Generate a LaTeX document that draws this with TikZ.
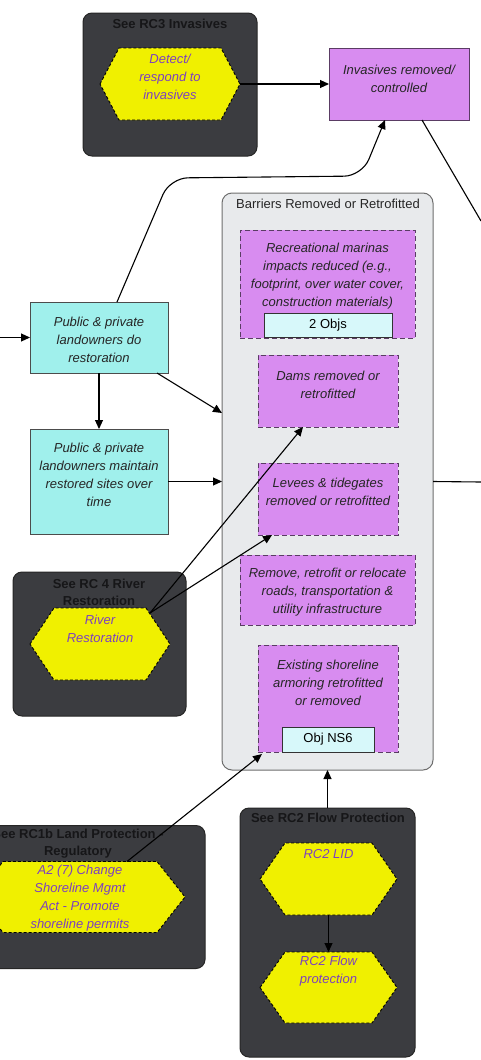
\documentclass[tikz,border=0pt]{standalone}
\usepackage{fontspec}
\setmainfont{Liberation Sans}
\usetikzlibrary{arrows.meta}
\definecolor{darkbox}{RGB}{59,60,64}
\definecolor{titlecol}{RGB}{22,22,24}
\definecolor{hexyellow}{RGB}{240,240,0}
\definecolor{hexpurple}{RGB}{125,65,190}
\definecolor{violetfill}{RGB}{216,140,240}
\definecolor{violetline}{RGB}{90,60,100}
\definecolor{cyanfill}{RGB}{160,240,236}
\definecolor{cyanlight}{RGB}{215,248,250}
\definecolor{contfill}{RGB}{232,234,236}
\definecolor{contline}{RGB}{110,110,110}
\newcommand\myhex[6]{%
  \node[hexnode, minimum width=#4pt, minimum height=#5pt] (#1) at (#2,#3) {};
  \draw[hexline] (#1.west) -- ([xshift=#6pt]#1.north west) -- ([xshift=-#6pt]#1.north east) -- (#1.east) -- ([xshift=-#6pt]#1.south east) -- ([xshift=#6pt]#1.south west) -- cycle;
}
\begin{document}
\begin{tikzpicture}[x=1pt,y=-1pt,
  every node/.style={outer sep=0pt, inner sep=0pt},
  darkpanel/.style={draw=black!85, fill=darkbox, rounded corners=9pt, line width=1pt},
  paneltitle/.style={font=\fontsize{13}{17}\selectfont\bfseries, text=titlecol, align=center},
  hexnode/.style={draw=none, rectangle},
  hexline/.style={fill=hexyellow, draw=black, dash pattern=on 3pt off 2pt, line width=0.9pt},
  hextext/.style={font=\fontsize{13}{18}\selectfont\itshape, text=hexpurple, align=center},
  violetbox/.style={draw=violetline, fill=violetfill, line width=1pt},
  dashbox/.style={draw=violetline, fill=violetfill, line width=1pt, dash pattern=on 5pt off 3pt},
  cyanbox/.style={draw=black!70, fill=cyanfill, line width=1pt},
  objbox/.style={draw=black!80, fill=cyanlight, line width=1pt, font=\fontsize{13}{14}\selectfont},
  boxtext/.style={font=\fontsize{13}{18}\selectfont\itshape, text=black!85, align=center},
  arr/.style={-{Triangle[length=9pt,width=8pt]}, line width=1.1pt, draw=black},
  ln/.style={line width=1.1pt, draw=black}
]
\useasboundingbox (0,0) rectangle (481,1060);
\clip (0,0) rectangle (481,1060);

% RC3 panel
\node[darkpanel, minimum width=174pt, minimum height=143pt] (rc3) at (170,84.5) {};
\node[paneltitle] (rc3t) at (170,24) {See RC3 Invasives};
\myhex{hex1}{170}{84}{140}{72}{19}
\node[hextext] (hex1t) at (170,77) {Detect/\\respond to\\invasives};

% Invasives box
\node[violetbox, minimum width=140pt, minimum height=72pt] (inv) at (399,84) {};
\node[boxtext] (invt) at (399,79) {Invasives removed/\\controlled};
\draw[arr] (hex1.east) -- (inv.west);
\coordinate (exitA) at (481,221);
\draw[ln] ([xshift=23pt]inv.south) -- (exitA);

% Container
\node[draw=contline, fill=contfill, rounded corners=10pt, line width=1pt, minimum width=211pt, minimum height=577pt] (cont) at (327.5,481.5) {};
\node[font=\fontsize{13}{14}\selectfont, text=black!85] (contt) at (328,204) {Barriers Removed or Retrofitted};

\node[dashbox, minimum width=175pt, minimum height=108pt] (mar) at (327.5,284) {};
\node[boxtext] (mart) at (327.5,276) {Recreational marinas\\impacts reduced (e.g.,\\footprint, over water cover,\\construction materials)};
\node[objbox, minimum width=128pt, minimum height=24pt] (obj2) at (328,325.5) {2 Objs};

\node[dashbox, minimum width=140pt, minimum height=72pt] (dams) at (328,391) {};
\node[boxtext] (damst) at (328,385) {Dams removed or\\retrofitted};

\node[dashbox, minimum width=140pt, minimum height=72pt] (lev) at (328,499) {};
\node[boxtext] (levt) at (328,492) {Levees \& tidegates\\removed or retrofitted};

\node[dashbox, minimum width=175pt, minimum height=70pt] (roads) at (327.5,590) {};
\node[boxtext] (roadst) at (327.5,592) {Remove, retrofit or relocate\\roads, transportation \&\\utility infrastructure};

\node[dashbox, minimum width=140pt, minimum height=107pt] (shore) at (328,698.5) {};
\node[boxtext] (shoret) at (328,683) {Existing shoreline\\armoring retrofitted\\or removed};
\node[objbox, minimum width=92pt, minimum height=25pt] (objns) at (328,739.5) {Obj NS6};

\coordinate (exitB) at (481,482);
\draw[ln] (cont.east) -- (exitB);

% Landowner boxes
\node[cyanbox, minimum width=138pt, minimum height=71pt] (pub1) at (99,337.5) {};
\node[boxtext] (pub1t) at (99,340) {Public \& private\\landowners do\\restoration};
\node[cyanbox, minimum width=138pt, minimum height=105pt] (pub2) at (99,481.5) {};
\node[boxtext] (pub2t) at (99,475) {Public \& private\\landowners maintain\\restored sites over\\time};
\coordinate (entryA) at (0,337.5);
\draw[arr] (entryA) -- (pub1.west);
\draw[arr] (pub1.south) -- (pub2.north);
\draw[arr] ([xshift=58pt]pub1.south) -- ([yshift=68.5pt]cont.west);
\draw[arr] (pub2.east) -- (cont.west);
\draw[arr, rounded corners=18pt] ([xshift=18pt]pub1.north) -- (170,178) -- (362,176) -- ([xshift=-14pt]inv.south);

% RC4 panel
\node[darkpanel, minimum width=173pt, minimum height=144pt] (rc4) at (99.5,644) {};
\node[paneltitle] (rc4t) at (99,592) {See RC 4 River\\Restoration};
\myhex{hex2}{100}{644}{140}{72}{24}
\node[hextext] (hex2t) at (100,629) {River\\Restoration};
\draw[arr] ([xshift=50pt,yshift=31pt]hex2.center) -- ([xshift=-25pt]dams.south);
\draw[arr] ([xshift=50pt,yshift=31pt]hex2.center) -- ([xshift=-56pt]lev.south);

% RC1b panel
\node[darkpanel, minimum width=220pt, minimum height=143pt] (rc1) at (95,897) {};
\node[paneltitle] (rc1t) at (78,844) {See RC1b Land Protection -\\Regulatory};
\myhex{hex3}{80}{897}{210}{71}{28}
\node[hextext] (hex3t) at (80,898) {A2 (7) Change\\Shoreline Mgmt\\Act - Promote\\shoreline permits};
\draw[arr] ([xshift=47pt]hex3.north) -- ([xshift=4pt,yshift=-2pt]shore.south west);

% RC2 panel
\node[darkpanel, minimum width=175pt, minimum height=249pt] (rc2) at (327.5,932.5) {};
\node[paneltitle] (rc2t) at (328,818) {See RC2 Flow Protection};
\myhex{hex4}{328.5}{879}{137}{72}{25}
\node[hextext] (hex4t) at (328.5,854) {RC2 LID};
\myhex{hex5}{328.5}{987.5}{137}{71}{25}
\node[hextext] (hex5t) at (328.5,971) {RC2 Flow\\protection};
\draw[arr] (hex4.south) -- (hex5.north);
\draw[arr] (rc2.north) -- (cont.south);
\end{tikzpicture}
\end{document}
